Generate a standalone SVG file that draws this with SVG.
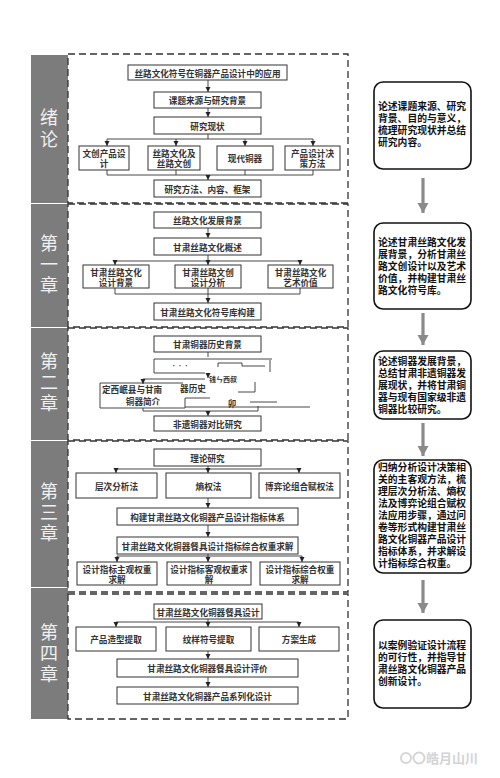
<svg xmlns="http://www.w3.org/2000/svg" width="500" height="778" viewBox="0 0 500 778">
<style>
text{font-family:"Noto Sans CJK SC","Noto Sans",sans-serif}
.bx{fill:#fff;stroke:#333;stroke-width:1}
.t{font-size:8.6px;font-weight:700;fill:#333;text-anchor:middle;dominant-baseline:central}
.ch{font-size:18px;fill:#f0f0f0;text-anchor:middle;writing-mode:vertical-rl;letter-spacing:3px}
.bar{fill:#7c7c7c}
.sec{fill:none;stroke:#333;stroke-width:1.3;stroke-dasharray:7 4}
.ln{fill:none;stroke:#333;stroke-width:0.9}
.rb{fill:#fff;stroke:#111;stroke-width:1.6}
.rt{font-size:9.8px;font-weight:700;fill:#111}
.ga{stroke:#8a8a8a;stroke-width:3.2}
.wm{font-size:13px;fill:#d4d4d4;font-weight:700}
</style>
<defs>
<marker id="ah" markerUnits="userSpaceOnUse" markerWidth="6" markerHeight="6" refX="5" refY="3" orient="auto">
<path d="M0,0.5 L5,3 L0,5.5 Z" fill="#222"/>
</marker>
<marker id="gh" markerUnits="userSpaceOnUse" markerWidth="12" markerHeight="12" refX="10" refY="6" orient="auto">
<path d="M0,0.5 L10,6 L0,11.5 Z" fill="#8a8a8a"/>
</marker>
</defs>

<g id="sidebar">
<rect class="bar" x="31" y="55" width="37" height="148"/>
<rect class="bar" x="31" y="204" width="37" height="123"/>
<rect class="bar" x="31" y="328" width="37" height="112"/>
<rect class="bar" x="31" y="441" width="37" height="146"/>
<rect class="bar" x="31" y="588" width="37" height="131"/>
<text class="ch" x="49" y="130" style="letter-spacing:4px">绪论</text>
<text class="ch" x="49" y="265.5">第一章</text>
<text class="ch" x="49" y="384">第二章</text>
<text class="ch" x="49" y="514">第三章</text>
<text class="ch" x="49" y="654.5">第四章</text>
</g>

<g id="sections">
<rect class="sec" x="68" y="54" width="280" height="149"/>
<rect class="sec" x="68" y="204" width="280" height="123"/>
<rect class="sec" x="68" y="328" width="280" height="112"/>
<rect class="sec" x="68" y="441" width="280" height="151"/>
<rect class="sec" x="68" y="594" width="280" height="125"/>
</g>

<g id="connectors">
<line class="ln" x1="208" y1="80" x2="208" y2="92" marker-end="url(#ah)"/>
<line class="ln" x1="208" y1="108" x2="208" y2="117" marker-end="url(#ah)"/>
<polyline class="ln" points="208,134 208,139"/>
<polyline class="ln" points="107,139 313,139"/>
<line class="ln" x1="107" y1="139" x2="107" y2="146" marker-end="url(#ah)"/>
<line class="ln" x1="176" y1="139" x2="176" y2="146" marker-end="url(#ah)"/>
<line class="ln" x1="245" y1="139" x2="245" y2="146" marker-end="url(#ah)"/>
<line class="ln" x1="313" y1="139" x2="313" y2="146" marker-end="url(#ah)"/>
<polyline class="ln" points="107,170 107,175 313,175 313,170"/>
<polyline class="ln" points="176,170 176,175"/>
<polyline class="ln" points="245,170 245,175"/>
<line class="ln" x1="208" y1="175" x2="208" y2="180" marker-end="url(#ah)"/>
<line class="ln" x1="208" y1="228" x2="208" y2="238" marker-end="url(#ah)"/>
<polyline class="ln" points="208,255 208,261"/>
<polyline class="ln" points="115,261 300,261"/>
<line class="ln" x1="115" y1="261" x2="115" y2="265" marker-end="url(#ah)"/>
<line class="ln" x1="208" y1="261" x2="208" y2="265" marker-end="url(#ah)"/>
<line class="ln" x1="300" y1="261" x2="300" y2="265" marker-end="url(#ah)"/>
<polyline class="ln" points="115,288 115,294 300,294 300,288"/>
<line class="ln" x1="208" y1="288" x2="208" y2="303" marker-end="url(#ah)"/>
<line class="ln" x1="208" y1="352" x2="208" y2="357"/>
<polyline class="ln" points="272,359 154,359 154,373 205,373"/>
<polyline class="ln" points="218,367 218,363 242,363 242,366 265,366"/>
<polyline class="ln" points="270,360 270,372"/>
<line class="ln" x1="208" y1="373" x2="208" y2="378" marker-end="url(#ah)"/>
<polyline class="ln" points="205,379 143,379"/>
<line class="ln" x1="143" y1="379" x2="143" y2="384" marker-end="url(#ah)"/>
<polyline class="ln" points="255,382 255,392 238,392"/>
<polyline class="ln" points="185,408 185,398 210,398"/>
<line class="ln" x1="250" y1="402" x2="277" y2="402"/>
<line class="ln" x1="185" y1="407" x2="310" y2="407"/>
<polyline class="ln" points="143,408 143,411 258,411 258,406"/>
<line class="ln" x1="208" y1="411" x2="208" y2="416" marker-end="url(#ah)"/>
<polyline class="ln" points="208,466 208,469"/>
<polyline class="ln" points="116,469 299,469"/>
<line class="ln" x1="116" y1="469" x2="116" y2="473" marker-end="url(#ah)"/>
<line class="ln" x1="208" y1="469" x2="208" y2="473" marker-end="url(#ah)"/>
<line class="ln" x1="299" y1="469" x2="299" y2="473" marker-end="url(#ah)"/>
<line class="ln" x1="208" y1="498" x2="208" y2="508" marker-end="url(#ah)"/>
<line class="ln" x1="208" y1="525" x2="208" y2="537" marker-end="url(#ah)"/>
<polyline class="ln" points="208,554 208,556"/>
<polyline class="ln" points="117,556 302,556"/>
<line class="ln" x1="117" y1="556" x2="117" y2="562" marker-end="url(#ah)"/>
<line class="ln" x1="208" y1="556" x2="208" y2="562" marker-end="url(#ah)"/>
<line class="ln" x1="302" y1="556" x2="302" y2="562" marker-end="url(#ah)"/>
<polyline class="ln" points="208,619 208,622"/>
<polyline class="ln" points="116,622 299,622"/>
<line class="ln" x1="116" y1="622" x2="116" y2="627" marker-end="url(#ah)"/>
<line class="ln" x1="208" y1="622" x2="208" y2="627" marker-end="url(#ah)"/>
<line class="ln" x1="299" y1="622" x2="299" y2="627" marker-end="url(#ah)"/>
<line class="ln" x1="208" y1="651" x2="208" y2="659" marker-end="url(#ah)"/>
<line class="ln" x1="208" y1="677" x2="208" y2="687" marker-end="url(#ah)"/>
<line class="ga" x1="423" y1="178" x2="423" y2="213" marker-end="url(#gh)"/>
<line class="ga" x1="423" y1="313" x2="423" y2="345" marker-end="url(#gh)"/>
<line class="ga" x1="423" y1="423" x2="423" y2="456" marker-end="url(#gh)"/>
<line class="ga" x1="423" y1="580" x2="423" y2="613" marker-end="url(#gh)"/>
</g>

<g id="n0_1"><rect class="bx" x="128" y="65" width="159" height="15"/><text class="t" x="207.5" y="72.5">丝路文化符号在铜器产品设计中的应用</text></g>
<g id="n0_2"><rect class="bx" x="154" y="92" width="107" height="16"/><text class="t" x="207.5" y="100">课题来源与研究背景</text></g>
<g id="n0_3"><rect class="bx" x="154" y="117" width="107" height="17"/><text class="t" x="207.5" y="125.5">研究现状</text></g>
<g id="n0_4"><rect class="bx" x="79" y="146" width="50" height="24"/><text class="t"><tspan x="104" y="153">文创产品设</tspan><tspan x="104" y="163">计</tspan></text></g>
<g id="n0_5"><rect class="bx" x="148" y="146" width="52" height="24"/><text class="t"><tspan x="174" y="153">丝路文化及</tspan><tspan x="174" y="163">丝路文创</tspan></text></g>
<g id="n0_6"><rect class="bx" x="217" y="146" width="56" height="24"/><text class="t" x="245" y="158">现代铜器</text></g>
<g id="n0_7"><rect class="bx" x="285" y="146" width="55" height="24"/><text class="t"><tspan x="312.5" y="153">产品设计决</tspan><tspan x="312.5" y="163">策方法</tspan></text></g>
<g id="n0_8"><rect class="bx" x="154" y="180" width="107" height="17"/><text class="t" x="207.5" y="188.5">研究方法、内容、框架</text></g>

<g id="n1_1"><rect class="bx" x="154" y="212" width="107" height="16"/><text class="t" x="207.5" y="220">丝路文化发展背景</text></g>
<g id="n1_2"><rect class="bx" x="154" y="238" width="107" height="17"/><text class="t" x="207.5" y="246.5">甘肃丝路文化概述</text></g>
<g id="n1_3"><rect class="bx" x="83" y="265" width="66" height="23"/><text class="t"><tspan x="116" y="271.5">甘肃丝路文化</tspan><tspan x="116" y="281.5">设计背景</tspan></text></g>
<g id="n1_4"><rect class="bx" x="175" y="265" width="66" height="23"/><text class="t"><tspan x="208" y="271.5">甘肃丝路文创</tspan><tspan x="208" y="281.5">设计分析</tspan></text></g>
<g id="n1_5"><rect class="bx" x="268" y="265" width="65" height="23"/><text class="t"><tspan x="300.5" y="271.5">甘肃丝路文化</tspan><tspan x="300.5" y="281.5">艺术价值</tspan></text></g>
<g id="n1_6"><rect class="bx" x="154" y="303" width="107" height="17"/><text class="t" x="207.5" y="311.5">甘肃丝路文化符号库构建</text></g>

<g id="n2_1"><rect class="bx" x="154" y="336" width="107" height="16"/><text class="t" x="207.5" y="344">甘肃铜器历史背景</text></g>
<g id="n2_2"><text class="t" x="180" y="364" style="font-size:5px">·  ·  ·</text></g>
<g id="n2_3"><polyline class="ln" points="183,383 100,383 100,408 185,408"/><text class="t"><tspan x="102" y="388.5" style="text-anchor:start">定西岷县与甘南</tspan><tspan x="193" y="387.5">器历史</tspan><tspan x="143" y="401">铜器简介</tspan></text></g>
<g id="n2_4"><text class="t"><tspan x="223" y="379" style="font-size:7px">钱ㄣ西叔</tspan><tspan x="232" y="403">卯</tspan></text></g>
<g id="n2_5"><rect class="bx" x="154" y="416" width="107" height="15"/><text class="t" x="207.5" y="423.5">非遗铜器对比研究</text></g>

<g id="n3_1"><rect class="bx" x="154" y="449" width="107" height="17"/><text class="t" x="207.5" y="457.5">理论研究</text></g>
<g id="n3_2"><rect class="bx" x="76" y="473" width="81" height="25"/><text class="t" x="116.5" y="485.5">层次分析法</text></g>
<g id="n3_3"><rect class="bx" x="166" y="473" width="85" height="25"/><text class="t" x="208.5" y="485.5">熵权法</text></g>
<g id="n3_4"><rect class="bx" x="259" y="473" width="81" height="25"/><text class="t" x="299.5" y="485.5">博弈论组合赋权法</text></g>
<g id="n3_5"><rect class="bx" x="117" y="508" width="181" height="17"/><text class="t" x="207.5" y="516.5">构建甘肃丝路文化铜器产品设计指标体系</text></g>
<g id="n3_6"><rect class="bx" x="117" y="537" width="181" height="17"/><text class="t" x="207.5" y="545.5">甘肃丝路文化铜器餐具设计指标综合权重求解</text></g>
<g id="n3_7"><rect class="bx" x="77" y="562" width="80" height="23"/><text class="t"><tspan x="117" y="568.5">设计指标主观权重</tspan><tspan x="117" y="578.5">求解</tspan></text></g>
<g id="n3_8"><rect class="bx" x="167" y="562" width="84" height="23"/><text class="t"><tspan x="209" y="568.5">设计指标客观权重求</tspan><tspan x="209" y="578.5">解</tspan></text></g>
<g id="n3_9"><rect class="bx" x="260" y="562" width="80" height="23"/><text class="t"><tspan x="300" y="568.5">设计指标综合权重</tspan><tspan x="300" y="578.5">求解</tspan></text></g>

<g id="n4_1"><rect class="bx" x="154" y="604" width="108" height="15"/><text class="t" x="208" y="611.5">甘肃丝路文化铜器餐具设计</text></g>
<g id="n4_2"><rect class="bx" x="76" y="627" width="80" height="24"/><text class="t" x="116" y="639">产品造型提取</text></g>
<g id="n4_3"><rect class="bx" x="166" y="627" width="85" height="24"/><text class="t" x="208.5" y="639">纹样符号提取</text></g>
<g id="n4_4"><rect class="bx" x="259" y="627" width="80" height="24"/><text class="t" x="299" y="639">方案生成</text></g>
<g id="n4_5"><rect class="bx" x="117" y="659" width="181" height="18"/><text class="t" x="207.5" y="668">甘肃丝路文化铜器餐具设计评价</text></g>
<g id="n4_6"><rect class="bx" x="117" y="687" width="181" height="17"/><text class="t" x="207.5" y="695.5">甘肃丝路文化铜器产品系列化设计</text></g>

<g id="r1"><rect class="rb" x="374" y="82" width="97" height="87" rx="9"/>
<text class="rt"><tspan x="378" y="110">论述课题来源、研究</tspan><tspan x="378" y="122">背景、目的与意义，</tspan><tspan x="378" y="134">梳理研究现状并总结</tspan><tspan x="378" y="146">研究内容。</tspan></text></g>
<g id="r2"><rect class="rb" x="374" y="223" width="97" height="86" rx="9"/>
<text class="rt"><tspan x="378" y="246">论述甘肃丝路文化发</tspan><tspan x="378" y="258">展背景，分析甘肃丝</tspan><tspan x="378" y="270">路文创设计以及艺术</tspan><tspan x="378" y="282">价值，并构建甘肃丝</tspan><tspan x="378" y="294">路文化符号库。</tspan></text></g>
<g id="r3"><rect class="rb" x="374" y="351" width="97" height="68" rx="9"/>
<text class="rt"><tspan x="378" y="365">论述铜器发展背景，</tspan><tspan x="378" y="377">总结甘肃非遗铜器发</tspan><tspan x="378" y="389">展现状，并将甘肃铜</tspan><tspan x="378" y="401">器与现有国家级非遗</tspan><tspan x="378" y="413">铜器比较研究。</tspan></text></g>
<g id="r4"><rect class="rb" x="374" y="460" width="97" height="113" rx="9"/>
<text class="rt"><tspan x="378" y="471">归纳分析设计决策相</tspan><tspan x="378" y="483">关的主客观方法，梳</tspan><tspan x="378" y="495">理层次分析法、熵权</tspan><tspan x="378" y="507">法及博弈论组合赋权</tspan><tspan x="378" y="519">法应用步骤，通过问</tspan><tspan x="378" y="531">卷等形式构建甘肃丝</tspan><tspan x="378" y="543">路文化铜器产品设计</tspan><tspan x="378" y="555">指标体系，并求解设</tspan><tspan x="378" y="567">计指标综合权重。</tspan></text></g>
<g id="r5"><rect class="rb" x="374" y="620" width="97" height="88" rx="9"/>
<text class="rt"><tspan x="378" y="649">以案例验证设计流程</tspan><tspan x="378" y="661">的可行性，并指导甘</tspan><tspan x="378" y="673">肃丝路文化铜器产品</tspan><tspan x="378" y="685">创新设计。</tspan></text></g>

<g id="watermark">
<circle cx="406" cy="758" r="5" fill="none" stroke="#d4d4d4" stroke-width="2"/>
<circle cx="419" cy="758" r="5.5" fill="none" stroke="#d4d4d4" stroke-width="2"/>
<text class="wm" x="426" y="763">皓月山川</text>
</g>
</svg>
